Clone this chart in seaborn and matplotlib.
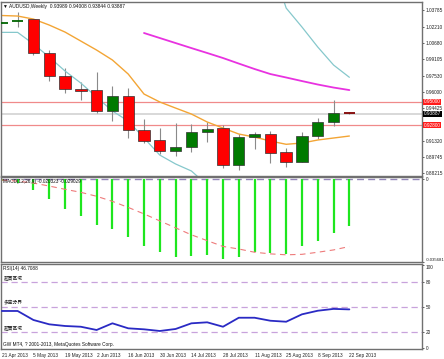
import numpy as np
import matplotlib
matplotlib.use("Agg")
import matplotlib.pyplot as plt
import matplotlib.transforms as mtransforms
import seaborn as sns

# weekly bars, AUDUSD
dates = ["21 Apr 2013", "28 Apr 2013", "5 May 2013", "12 May 2013", "19 May 2013",
         "26 May 2013", "2 Jun 2013", "9 Jun 2013", "16 Jun 2013", "23 Jun 2013",
         "30 Jun 2013", "7 Jul 2013", "14 Jul 2013", "21 Jul 2013", "28 Jul 2013",
         "4 Aug 2013", "11 Aug 2013", "18 Aug 2013", "25 Aug 2013", "1 Sep 2013",
         "8 Sep 2013", "15 Sep 2013", "22 Sep 2013"]
opens = [1.0258, 1.0272, 1.0290, 0.9971, 0.9751, 0.9621, 0.9611, 0.9414, 0.9555, 0.9232,
         0.9137, 0.9035, 0.9073, 0.9213, 0.9248, 0.8898, 0.9163, 0.9191, 0.9019, 0.8929,
         0.9175, 0.9312, 0.93989]
highs = [1.0262, 1.0362, 1.0292, 0.9996, 0.9827, 0.9694, 0.9786, 0.9652, 0.9631, 0.9334,
         0.9248, 0.9296, 0.9287, 0.9312, 0.9280, 0.9194, 0.9216, 0.9223, 0.9063, 0.9216,
         0.9344, 0.9519, 0.94008]
lows = [1.0258, 1.0213, 0.9948, 0.9703, 0.9583, 0.9519, 0.9392, 0.9318, 0.9159, 0.9105,
        0.9003, 0.8987, 0.9025, 0.9121, 0.8866, 0.8850, 0.9048, 0.8920, 0.8882, 0.8925,
        0.9146, 0.9273, 0.93844]
closes = [1.0262, 1.0278, 0.9971, 0.9751, 0.9621, 0.9608, 0.9414, 0.9557, 0.9232, 0.9130,
          0.9035, 0.9073, 0.9216, 0.9242, 0.8898, 0.9163, 0.9191, 0.9015, 0.8929, 0.9175,
          0.9312, 0.9397, 0.93887]

# indicator lines on the price chart (None = not drawn / off chart)
ma_orange = [1.0326, 1.0321, 1.0292, 1.0235, 1.0168, 1.0082, 0.9996, 0.9901, 0.9767, 0.9576,
             0.9500, 0.9442, 0.9385, 0.9309, 0.9251, 0.9194, 0.9165, 0.9127, 0.9096, 0.9108,
             0.9137, 0.9156, 0.9175]
ma_cyan = [1.0165, 1.0165, 1.0054, 0.9929, 0.9796, 0.9681, 0.9547, 0.9414, 0.9318, 0.9156,
           0.8993, 0.8908, 0.8841, 0.8707, None, None, None, 1.0856, 1.0397, 1.0216,
           1.0025, 0.9853, 0.9736]
ma_magenta = [None, None, None, None, None, None, None, None, None, 1.0159,
              1.0111, 1.0063, 1.0015, 0.9968, 0.9920, 0.9867, 0.9815, 0.9767, 0.9734, 0.9700,
              0.9667, 0.9638, 0.9614]

price_ticks = [1.03785, 1.02210, 1.00680, 0.99105, 0.97530, 0.96000, 0.94425,
               0.91320, 0.89745, 0.88215]
red_levels = [0.95000, 0.92800]
last_price = 0.93887

macd_main = [-0.0009, -0.0017, -0.0048, -0.0087, -0.0127, -0.0157, -0.0197, -0.0215, -0.0251,
             -0.0287, -0.0316, -0.0335, -0.0331, -0.0328, -0.0342, -0.0334, -0.0316, -0.0319,
             -0.0321, -0.0290, -0.0268, -0.0232, -0.020323]
macd_signal = [-0.0004, -0.0009, -0.0017, -0.0030, -0.0044, -0.0057, -0.0074, -0.0096, -0.0122,
               -0.0150, -0.0180, -0.0210, -0.0240, -0.0265, -0.0290, -0.0301, -0.0315, -0.0322,
               -0.0326, -0.0324, -0.0315, -0.0305, -0.029029]

rsi = [44.8, 44.8, 34.0, 28.8, 26.8, 25.9, 22.0, 30.0, 24.0, 22.8, 20.8, 23.2, 30.0, 31.2,
       25.9, 36.7, 36.7, 33.1, 31.9, 40.8, 45.1, 47.3, 46.7088]
rsi_levels = [80, 50, 20]
rsi_level_names = ["超買區域", "多空分界", "超賣區域"]

sns.set_theme(style="white")
plt.rcParams["font.family"] = ["Liberation Sans", "DejaVu Sans"]
plt.rcParams["font.size"] = 3.4

FRAME = "#707070"


def style_panel(ax):
    for s in ax.spines.values():
        s.set_color(FRAME)
        s.set_linewidth(1.0)
    ax.yaxis.tick_right()
    ax.tick_params(axis="y", labelsize=3.4, length=1.5, width=0.5, colors="#202020", pad=1)
    ax.tick_params(axis="x", length=0, labelbottom=False)
    ax.set_xlim(-0.06, 26.6)


def draw_segments(ax, values, **kw):
    # draw each run of non-missing values as its own line
    run_x, run_y = [], []
    for i, v in enumerate(values + [None]):
        if v is None:
            if len(run_x) > 1:
                sns.lineplot(x=run_x, y=run_y, ax=ax, sort=False, estimator=None, **kw)
            run_x, run_y = [], []
        else:
            run_x.append(i)
            run_y.append(v)


fig = plt.figure(figsize=(4.44, 3.59), dpi=100)
ax_p = fig.add_axes([0.002, 0.5097, 0.9485, 0.4847])
ax_m = fig.add_axes([0.002, 0.2702, 0.9485, 0.2368])
ax_r = fig.add_axes([0.002, 0.0265, 0.9485, 0.2368])
for ax in (ax_p, ax_m, ax_r):
    style_panel(ax)

# ---- price panel
x = np.arange(len(dates))
o, h, l, c = map(np.array, (opens, highs, lows, closes))
ax_p.set_ylim(0.8793, 1.0455)

for lvl in red_levels:
    ax_p.axhline(lvl, color="#f08a8a", lw=0.9, zorder=1)
ax_p.axhline(last_price, color="#d8d8d8", lw=1.4, zorder=1)

ax_p.vlines(x, l, h, color="#8a8a8a", lw=0.8, zorder=2)
is_doji = np.abs(c - o) < 0.0011
up = c >= o
body = ~is_doji
ax_p.bar(x[body], np.abs(c - o)[body], bottom=np.minimum(o, c)[body], width=0.72,
         color=np.where(up, "#007a00", "#ff0000")[body], edgecolor="#303030",
         linewidth=0.5, zorder=3)
ax_p.hlines(o[is_doji], x[is_doji] - 0.36, x[is_doji] + 0.36,
            colors=np.where(up, "#006400", "#800000")[is_doji], lw=1.3, zorder=3)

draw_segments(ax_p, ma_orange, color="#f3a535", linewidth=1.0)
draw_segments(ax_p, ma_cyan, color="#86c8cc", linewidth=0.9)
draw_segments(ax_p, ma_magenta, color="#e832e0", linewidth=1.3)

ax_p.set_yticks(price_ticks)
ax_p.set_yticklabels([f"{t:.5f}" for t in price_ticks])
tr = mtransforms.blended_transform_factory(ax_p.transAxes, ax_p.transData)
for lvl in red_levels:
    ax_p.text(1.004, lvl, f"{lvl:.5f}", transform=tr, ha="left", va="center", color="white",
              fontsize=3.4, bbox=dict(fc="#ff1a1a", ec="none", pad=0.4), clip_on=False)
ax_p.text(1.004, last_price, f"{last_price:.5f}", transform=tr, ha="left", va="center",
          color="white", fontsize=3.4, bbox=dict(fc="#000000", ec="none", pad=0.4), clip_on=False)
ax_p.text(0.006, 0.976, "▼ AUDUSD,Weekly  0.93989 0.94008 0.93844 0.93887",
          transform=ax_p.transAxes, ha="left", va="center", fontsize=3.5, color="#101010")

# ---- MACD panel
ax_m.set_ylim(-0.0357, 0.0009)
ax_m.axhline(0, color="#9386b8", lw=1.0, ls=(0, (5, 3)), zorder=1)
ax_m.vlines(x, 0, macd_main, color="#1ee61e", lw=1.6, zorder=2)
sns.lineplot(x=x, y=macd_signal, ax=ax_m, color="#ee7a7a", linewidth=0.8,
             linestyle=(0, (5, 4)), zorder=3)
ax_m.set_yticks([0, -0.035681])
ax_m.set_yticklabels(["0", "-0.035681"])
ax_m.get_yticklabels()[1].set_va("bottom")
ax_m.get_yticklabels()[1].set_fontsize(3.1)
ax_m.text(0.006, 0.95, "MACD(12,26,9) -0.020323 -0.029029", transform=ax_m.transAxes,
          ha="left", va="center", fontsize=3.4, color="#101010")

# ---- RSI panel
ax_r.set_ylim(-1.4, 100.6)
for lvl, name in zip(rsi_levels, rsi_level_names):
    ax_r.axhline(lvl, color="#c8a2dc", lw=0.9, ls=(0, (5, 3)), zorder=1)
    ax_r.text(0.006, lvl + 1.5, name, transform=mtransforms.blended_transform_factory(
        ax_r.transAxes, ax_r.transData), ha="left", va="bottom", fontsize=3.4,
        family=["Noto Sans CJK TC", "DejaVu Sans"], color="#202020")
sns.lineplot(x=x, y=rsi, ax=ax_r, color="#2a2ac4", linewidth=1.3, zorder=3)
ax_r.set_yticks([100, 80, 50, 20, 0])
ax_r.set_yticklabels(["100", "80", "50", "20", "0"])
ax_r.get_yticklabels()[0].set_va("top")
ax_r.text(0.006, 0.958, "RSI(14) 46.7088", transform=ax_r.transAxes, ha="left", va="center",
          fontsize=3.4, color="#101010")
ax_r.text(0.006, 0.055, "GW MT4, ? 2001-2013, MetaQuotes Software Corp.",
          transform=ax_r.transAxes, ha="left", va="center", fontsize=3.4, color="#101010")

ax_r.set_xticks(x[::2])
ax_r.set_xticklabels(dates[::2], ha="left")
ax_r.tick_params(axis="x", length=1.5, width=0.5, labelbottom=True, labelsize=3.4,
                 colors="#202020", pad=1)
for ax in (ax_p, ax_m, ax_r):
    ax.set_xlabel("")
    ax.set_ylabel("")

fig.savefig("out.png", dpi=100, facecolor="white")
